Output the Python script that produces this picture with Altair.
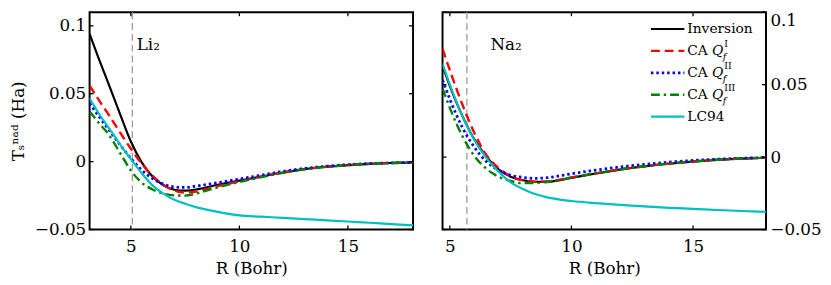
import altair as alt
import pandas as pd

# ---------------- data ----------------
SERIES = ["Inversion", "CA Q_f^I", "CA Q_f^II", "CA Q_f^III", "LC94"]

R_LI = [3.1, 3.5, 4.0, 4.5, 5.0, 5.5, 6.0, 6.5, 7.0, 7.5, 8.0, 9.0, 10.0,
        11.0, 12.0, 13.0, 14.0, 15.0, 16.0, 17.0, 18.0]
LI_INV = [0.094, 0.0768, 0.0562, 0.0352, 0.0148, -0.0005, -0.011, -0.0175, -0.0207,
          -0.0214, -0.0205, -0.017, -0.014, -0.011, -0.008, -0.0055, -0.0038,
          -0.0026, -0.0016, -0.001, -0.0007]
LI_CA1 = [0.056, 0.046, 0.034, 0.0215, 0.0095, -0.0015, -0.0105, -0.017, -0.0213,
          -0.0228, -0.022, -0.018, -0.0145, -0.011, -0.008, -0.0055, -0.0038,
          -0.0026, -0.0016, -0.001, -0.0007]
LI_CA2 = [0.043, 0.034, 0.0232, 0.0125, 0.0025, -0.0062, -0.0125, -0.0165, -0.0186,
          -0.019, -0.018, -0.0155, -0.0128, -0.010, -0.0072, -0.005, -0.0034,
          -0.0022, -0.0014, -0.0009, -0.0006]
LI_CA3 = [0.037, 0.029, 0.0195, 0.0065, -0.0065, -0.0155, -0.0205, -0.0235, -0.0248,
          -0.025, -0.0235, -0.019, -0.015, -0.0115, -0.0083, -0.0057, -0.0039,
          -0.0026, -0.0016, -0.001, -0.0007]
LI_LC94 = [0.0467, 0.036, 0.0245, 0.0128, 0.0018, -0.0085, -0.0175, -0.0235, -0.028,
           -0.031, -0.0335, -0.037, -0.0396, -0.0405, -0.0414, -0.0423, -0.0432,
           -0.0441, -0.045, -0.046, -0.0469]

R_NA = [4.7, 5.0, 5.5, 6.0, 6.5, 7.0, 7.5, 8.0, 8.5, 9.0, 10.0, 11.0, 12.0,
        13.0, 14.0, 15.0, 16.0, 17.0, 18.0]
NA_INV = [0.063, 0.049, 0.029, 0.0125, 0.0005, -0.0085, -0.0135, -0.016, -0.017,
          -0.017, -0.0143, -0.0113, -0.0086, -0.0064, -0.0046, -0.0031, -0.0019,
          -0.0011, -0.0005]
NA_CA1 = [0.0747, 0.060, 0.037, 0.017, 0.0015, -0.0075, -0.0132, -0.016, -0.017,
          -0.0168, -0.014, -0.0112, -0.0085, -0.0063, -0.0045, -0.003, -0.0018,
          -0.001, -0.0004]
NA_CA2 = [0.0532, 0.040, 0.021, 0.007, -0.003, -0.009, -0.0125, -0.014, -0.0147,
          -0.0142, -0.0115, -0.009, -0.0068, -0.005, -0.0035, -0.0023, -0.0014,
          -0.0008, -0.0003]
NA_CA3 = [0.0475, 0.034, 0.015, 0.001, -0.008, -0.0135, -0.0165, -0.018, -0.018,
          -0.0172, -0.0142, -0.0112, -0.0085, -0.0063, -0.0045, -0.003, -0.0018,
          -0.001, -0.0004]
NA_LC94 = [0.0645, 0.050, 0.029, 0.012, -0.0005, -0.010, -0.0175, -0.022, -0.0255,
           -0.0278, -0.0303, -0.0318, -0.033, -0.034, -0.035, -0.0357, -0.0365,
           -0.0372, -0.0378]

XTICKS = [5, 10, 15]
YTICKS = [-0.05, 0, 0.05, 0.1]
LI_EQ = 5.07
NA_EQ = 5.7

# ---------------- styling ----------------
FONT = "DejaVu Serif"
W, H = 329, 221
STYLES = [
    dict(color="#000000", strokeWidth=2.2),
    dict(color="#ff0000", strokeWidth=2.4, strokeDash=[9, 5]),
    dict(color="#0000ff", strokeWidth=2.8, strokeDash=[2.5, 3]),
    dict(color="#008000", strokeWidth=2.4, strokeDash=[9, 4, 2.5, 4]),
    dict(color="#00bfbf", strokeWidth=2.2),
]
AX = dict(labelFont=FONT, titleFont=FONT, labelFontSize=17, titleFontSize=17,
          titleFontWeight="normal", labelColor="black", titleColor="black",
          grid=False, domain=False, ticks=False, tickSize=0)


def panel(R, curves, xdom, ydom, eq, label, label_R, label_v, yorient, legend):
    xs = alt.Scale(domain=xdom, nice=False, zero=False)
    ys = alt.Scale(domain=ydom, nice=False, zero=False)
    xaxis = alt.Axis(values=XTICKS, format="d", title="R (Bohr)",
                     labelPadding=9, titlePadding=7, **AX)
    if yorient == "left":
        yaxis = alt.Axis(values=YTICKS, format="~g", orient="left",
                         title="Tₛⁿᵃᵈ (Ha)", labelPadding=4, titlePadding=7, **AX)
    else:
        yaxis = alt.Axis(values=YTICKS, format="~g", orient="right", title=None,
                         labelPadding=4,
                         labelBaseline={"condition": {"test": "datum.value > 0.09",
                                                      "value": "top"},
                                        "value": "middle"}, **AX)
    X = alt.X("R:Q", scale=xs, axis=xaxis)
    Y = alt.Y("v:Q", scale=ys, axis=yaxis)

    layers = []
    # equilibrium marker
    layers.append(alt.Chart(pd.DataFrame({"R": [eq]})).mark_rule(
        color="#9a9a9a", strokeWidth=1.3, strokeDash=[7, 4]).encode(
        x=X, y=alt.value(0), y2=alt.value(H)))
    # curves
    for name, vals, st in zip(SERIES, curves, STYLES):
        df = pd.DataFrame({"R": R, "v": vals})
        layers.append(alt.Chart(df).mark_line(interpolate="monotone", clip=True,
                                              **st).encode(x=X, y=Y))
    # inward ticks on all four sides
    xt = pd.DataFrame({"R": XTICKS})
    yt = pd.DataFrame({"v": YTICKS})
    tk = dict(color="black", strokeWidth=1.3)
    layers.append(alt.Chart(xt).mark_rule(**tk).encode(x=X, y=alt.value(H), y2=alt.value(H - 4)))
    layers.append(alt.Chart(xt).mark_rule(**tk).encode(x=X, y=alt.value(0), y2=alt.value(4)))
    layers.append(alt.Chart(yt).mark_rule(**tk).encode(y=Y, x=alt.value(0), x2=alt.value(4)))
    layers.append(alt.Chart(yt).mark_rule(**tk).encode(y=Y, x=alt.value(W - 4), x2=alt.value(W)))
    # molecule label
    layers.append(alt.Chart(pd.DataFrame({"R": [label_R], "v": [label_v], "t": [label]}))
                  .mark_text(align="left", baseline="middle", font=FONT, fontSize=17,
                             color="black")
                  .encode(x=X, y=Y, text="t:N"))
    if legend:
        lx0, lx1, ltx, ly0, ldy = 212, 246, 249, 17, 22.3
        sups = {1: "I", 2: "II", 3: "III"}
        for i, (name, st) in enumerate(zip(SERIES, STYLES)):
            yy = ly0 + i * ldy
            layers.append(alt.Chart(pd.DataFrame({"k": [name]})).mark_rule(**st).encode(
                x=alt.value(lx0), x2=alt.value(lx1), y=alt.value(yy)))
            base = dict(font=FONT, color="black", align="left", baseline="middle")
            if i in sups:
                layers.append(alt.Chart(pd.DataFrame({"t": ["CA"]})).mark_text(
                    fontSize=14, **base).encode(x=alt.value(ltx), y=alt.value(yy), text="t:N"))
                layers.append(alt.Chart(pd.DataFrame({"t": ["Q"]})).mark_text(
                    fontSize=14, fontStyle="italic", **base).encode(
                    x=alt.value(ltx + 25), y=alt.value(yy), text="t:N"))
                layers.append(alt.Chart(pd.DataFrame({"t": [sups[i]]})).mark_text(
                    fontSize=9.5, **base).encode(
                    x=alt.value(ltx + 37.5), y=alt.value(yy - 7), text="t:N"))
                layers.append(alt.Chart(pd.DataFrame({"t": ["f"]})).mark_text(
                    fontSize=9.5, fontStyle="italic", **base).encode(
                    x=alt.value(ltx + 36), y=alt.value(yy + 6), text="t:N"))
            else:
                layers.append(alt.Chart(pd.DataFrame({"t": [name]})).mark_text(
                    fontSize=14, **base).encode(x=alt.value(ltx), y=alt.value(yy), text="t:N"))
    return alt.layer(*layers).properties(width=W, height=H)


left = panel(R_LI, [LI_INV, LI_CA1, LI_CA2, LI_CA3, LI_LC94], [3.1, 18.0],
             [-0.05, 0.11], LI_EQ, "Li₂", 5.27, 0.0858, "left", False)
right = panel(R_NA, [NA_INV, NA_CA1, NA_CA2, NA_CA3, NA_LC94], [4.7, 18.0],
              [-0.05, 0.1], NA_EQ, "Na₂", 6.67, 0.0772, "right", True)

chart = (
    alt.hconcat(left, right, spacing=26)
    .properties(padding=0)
    .configure_view(stroke="black", strokeWidth=2)
)

chart.save("out.html", embed_options={"renderer": "svg", "actions": False})
